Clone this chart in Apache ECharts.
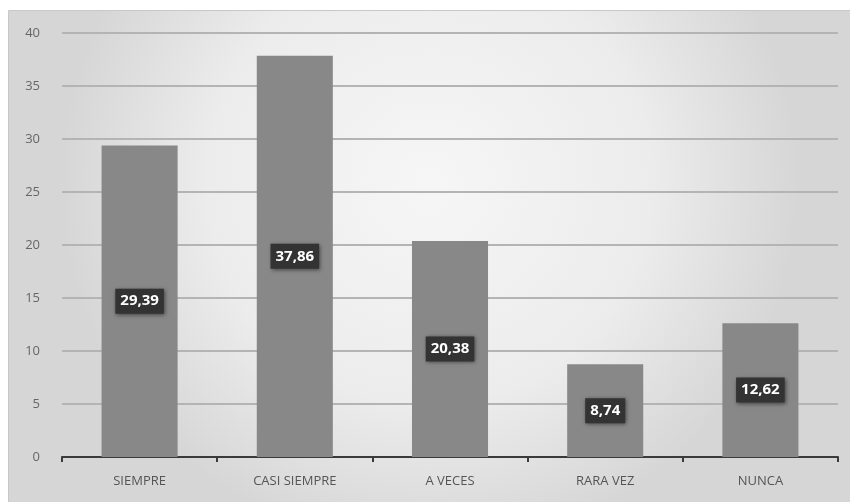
<!DOCTYPE html>
<html><head><meta charset="utf-8">
<script src="https://cdn.jsdelivr.net/npm/echarts@6/dist/echarts.min.js"></script>
<style>html,body{margin:0;padding:0;background:#fff}#c{width:850px;height:502px}</style>
</head><body><div id="c"></div>
<script>
const categories = ['SIEMPRE', 'CASI SIEMPRE', 'A VECES', 'RARA VEZ', 'NUNCA'];
const values = [29.39, 37.86, 20.38, 8.74, 12.62];
const yTicks = [0, 5, 10, 15, 20, 25, 30, 35, 40];

const chart = echarts.init(document.getElementById('c'));
chart.setOption({
  animation: false,
  backgroundColor: '#ffffff',
  graphic: [{
    type: 'rect', left: 8, top: 10, z: -10, silent: true,
    shape: { width: 842, height: 492 },
    style: {
      fill: { type: 'radial', x: 0.5, y: 0.35, r: 0.75,
        colorStops: [{ offset: 0, color: '#f6f6f6' }, { offset: 0.6, color: '#ececec' }, { offset: 1, color: '#d6d6d6' }] },
      stroke: '#c8c8c8', lineWidth: 1
    }
  }],
  grid: { left: 62, right: 12, top: 33, bottom: 45, containLabel: false },
  xAxis: {
    type: 'category', data: categories,
    axisLine: { lineStyle: { color: '#3a3a3a', width: 2 } },
    axisTick: { show: true, alignWithLabel: false, length: 5, lineStyle: { color: '#3a3a3a', width: 2 } },
    axisLabel: { color: '#555', fontSize: 13, fontFamily: 'Open Sans', margin: 18 }
  },
  yAxis: {
    type: 'value', min: yTicks[0], max: yTicks[yTicks.length - 1], interval: 5,
    axisLine: { show: false }, axisTick: { show: false },
    axisLabel: { color: '#666', fontSize: 13, fontFamily: 'Open Sans', margin: 22 },
    splitLine: { lineStyle: { color: '#b4b4b4', width: 2 } }
  },
  series: [{
    type: 'bar', data: values, barWidth: '49%',
    itemStyle: { color: '#888888' },
    label: {
      show: true, position: 'inside',
      formatter: p => p.value.toFixed(2).replace('.', ','),
      color: '#fff', fontWeight: 'bold', fontSize: 15, fontFamily: 'Open Sans',
      backgroundColor: '#333333', padding: [5, 5, 5, 5],
      shadowColor: 'rgba(0,0,0,0.5)', shadowBlur: 4, shadowOffsetX: 1, shadowOffsetY: 1
    }
  }]
});
</script></body></html>
